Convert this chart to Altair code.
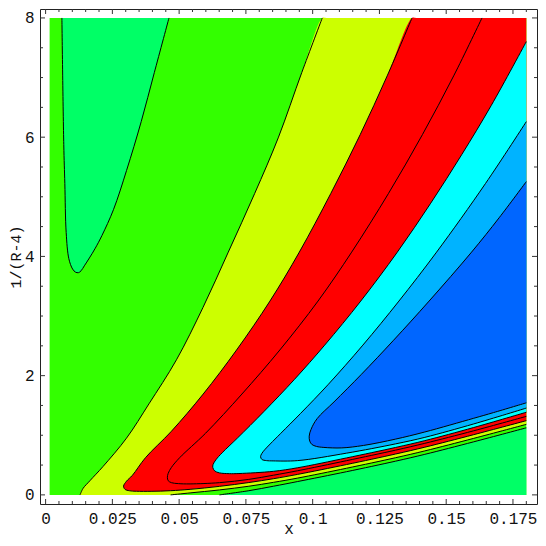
import altair as alt
import pandas as pd

# ---- plot region (data units) ----
X_LEFT, X_RIGHT = 0.0015, 0.18
Y_BOTTOM, Y_TOP = 0.0, 8.0

# ---- contour curves ----
# closed pocket of the lowest level (top left)
pocket_x = [0.0061, 0.0068, 0.0072, 0.0077, 0.0087, 0.0101, 0.0112, 0.0123, 0.0133, 0.0145, 0.0164, 0.0186,
            0.0211, 0.0254, 0.0303, 0.0358, 0.0407, 0.0462]
pocket_y = [8.0, 5.879, 5.222, 4.401, 3.962, 3.788, 3.736, 3.727, 3.760, 3.842, 3.974, 4.138,
            4.351, 4.783, 5.440, 6.261, 7.082, 8.0]

# lowest level, branch near the bottom right
L1_x = [0.0651, 0.0761, 0.0853, 0.0944, 0.1127, 0.131, 0.142, 0.1603, 0.18]
L1_y = [0.0, 0.07, 0.145, 0.224, 0.389, 0.565, 0.68, 0.89, 1.125]

# second level: upper branch (top -> bottom) and lower branch (bottom -> right)
L2_up_x = [0.1036, 0.0959, 0.0871, 0.0783, 0.0684, 0.0589, 0.0490, 0.0387, 0.0303, 0.0215, 0.0166, 0.0140, 0.0129]
L2_up_y = [8.0, 7.082, 5.988, 5.057, 4.072, 3.141, 2.266, 1.527, 0.952, 0.476, 0.238, 0.107, 0.0]
L2_low_x = [0.0468, 0.0541, 0.0651, 0.0761, 0.0853, 0.0944, 0.1127, 0.131, 0.142, 0.1603, 0.18]
L2_low_y = [0.0, 0.033, 0.083, 0.145, 0.21, 0.282, 0.447, 0.623, 0.738, 0.948, 1.183]

# higher levels: each curve from its top/right end, round its tip, to the right edge
L3_x = [0.1372, 0.1279, 0.1178, 0.1068, 0.0950, 0.0840, 0.0715, 0.0590, 0.0471, 0.0374, 0.0325, 0.0303,
        0.0292, 0.0297, 0.0314, 0.0340, 0.0395, 0.0468, 0.0541, 0.0651, 0.0761, 0.0853, 0.0944, 0.1127,
        0.131, 0.142, 0.1603, 0.18]
L3_y = [8.0, 7.028, 6.043, 5.057, 4.072, 3.251, 2.430, 1.691, 1.067, 0.624, 0.328, 0.230,
        0.148, 0.094, 0.069, 0.061, 0.06, 0.070, 0.093, 0.143, 0.207, 0.271, 0.344, 0.509,
        0.685, 0.80, 1.01, 1.245]

L4_x = [0.1634, 0.1528, 0.1411, 0.1284, 0.1146, 0.1020, 0.0877, 0.0735, 0.0599, 0.0502, 0.0471, 0.0459,
        0.0456, 0.0459, 0.0471, 0.0497, 0.0541, 0.0651, 0.0761, 0.0853, 0.0944, 0.1127, 0.131, 0.142,
        0.1603, 0.18]
L4_y = [8.0, 7.028, 6.043, 5.057, 4.072, 3.251, 2.430, 1.691, 1.034, 0.624, 0.460, 0.361,
        0.296, 0.238, 0.205, 0.189, 0.184, 0.205, 0.26, 0.33, 0.405, 0.574, 0.75, 0.865,
        1.075, 1.317]

L5_x = [0.18, 0.1669, 0.1559, 0.1442, 0.1317, 0.1180, 0.1045, 0.0932, 0.0817, 0.0718, 0.0661, 0.0638,
        0.0627, 0.0626, 0.0633, 0.0651, 0.0688, 0.0724, 0.0853, 0.0944, 0.1127, 0.131, 0.142, 0.1603, 0.18]
L5_y = [7.603, 6.535, 5.714, 4.893, 4.072, 3.251, 2.512, 1.938, 1.396, 0.952, 0.706, 0.591,
        0.509, 0.460, 0.402, 0.369, 0.356, 0.358, 0.395, 0.455, 0.62, 0.795, 0.91, 1.13, 1.386]

L6_x = [0.18, 0.1647, 0.1464, 0.1323, 0.1188, 0.1059, 0.0954, 0.0881, 0.0841, 0.0820, 0.0809, 0.0805,
        0.0810, 0.0827, 0.0852, 0.0944, 0.1127, 0.131, 0.142, 0.1603, 0.18]
L6_y = [6.261, 5.222, 4.072, 3.251, 2.512, 1.856, 1.363, 1.034, 0.854, 0.755, 0.690, 0.640,
        0.594, 0.575, 0.570, 0.575, 0.70, 0.855, 0.965, 1.19, 1.456]

L7_x = [0.18, 0.1698, 0.1595, 0.1436, 0.1303, 0.1182, 0.1080, 0.1017, 0.0994, 0.0987, 0.0989, 0.0997,
        0.1014, 0.1042, 0.1109, 0.1190, 0.131, 0.142, 0.1603, 0.1677, 0.18]
L7_y = [5.255, 4.647, 4.072, 3.251, 2.594, 2.020, 1.560, 1.281, 1.100, 0.985, 0.903, 0.846,
        0.813, 0.796, 0.788, 0.829, 0.935, 1.055, 1.285, 1.38, 1.544]

# ---- ticks ----
x_major = [0, 0.025, 0.05, 0.075, 0.1, 0.125, 0.15, 0.175]
x_minor = [0.005, 0.01, 0.015, 0.02, 0.03, 0.035, 0.04, 0.045, 0.055, 0.06, 0.065, 0.07,
           0.08, 0.085, 0.09, 0.095, 0.105, 0.11, 0.115, 0.12, 0.13, 0.135, 0.14, 0.145,
           0.155, 0.16, 0.165, 0.17, 0.18]
y_major = [0, 2, 4, 6, 8]
y_minor = [0.5, 1, 1.5, 2.5, 3, 3.5, 4.5, 5, 5.5, 6.5, 7, 7.5]

# ---- colours ----
C_GREEN, C_MINT, C_YELLOW, C_RED = "#33FF00", "#00FF66", "#CCFF00", "#FF0000"
C_CYAN, C_LBLUE, C_BLUE = "#00FFFF", "#00B3FF", "#0066FF"

W, H = 497, 495
XS = alt.Scale(domain=[-0.0021, 0.1840], nice=False, zero=False)
YS = alt.Scale(domain=[-0.153, 8.15], nice=False, zero=False)
FONT = "Liberation Mono"
CURVE = "catmull-rom"

x_axis = alt.Axis(values=x_major, format=".3~g", ticks=False, tickSize=0, domain=False, grid=False,
                  labelFont=FONT, labelFontSize=16, labelPadding=6, labelColor="#111", labelFlush=False,
                  title="x", titleFont=FONT, titleFontSize=16, titleFontWeight="normal", titleColor="#111",
                  titleY=29, titleBaseline="alphabetic")
y_axis = alt.Axis(values=y_major, format="d", ticks=False, tickSize=0, domain=False, grid=False,
                  labelFont=FONT, labelFontSize=16, labelPadding=6, labelColor="#111", labelFlush=False,
                  title="1/(R-4)", titleFont=FONT, titleFontSize=15, titleFontWeight="normal",
                  titleColor="#111", titleX=-20, titleY=H / 2, titleBaseline="alphabetic", titleAngle=270)


def XE(field):
    return alt.X(field, scale=XS, axis=x_axis)


def YE(field):
    return alt.Y(field, scale=YS, axis=y_axis)


def frame(xs, ys, name=""):
    return pd.DataFrame({"x": list(xs), "y": list(ys), "o": list(range(len(xs))), "seg": name})


bg = alt.Chart(pd.DataFrame({"x0": [X_LEFT], "x1": [X_RIGHT], "y0": [Y_BOTTOM], "y1": [Y_TOP]})).mark_rect(
    color=C_GREEN).encode(x=XE("x0:Q"), x2="x1:Q", y=YE("y0:Q"), y2="y1:Q")


def fill_layer(df, color):
    return alt.Chart(df).mark_line(fill=color, strokeWidth=0, strokeOpacity=0, interpolate=CURVE).encode(
        x=XE("x:Q"), y=YE("y:Q"), order="o:Q")


polys = [
    (frame([X_RIGHT, L1_x[0] + 0.001] + L1_x, [Y_BOTTOM, Y_BOTTOM] + L1_y), C_MINT),
    (frame(pocket_x, pocket_y), C_MINT),
    (frame([X_RIGHT, L2_up_x[0] + 0.0015] + L2_up_x + [0.0140, 0.0460] + L2_low_x,
           [Y_TOP, Y_TOP] + L2_up_y + [Y_BOTTOM, Y_BOTTOM] + L2_low_y), C_YELLOW),
    (frame([X_RIGHT, L3_x[0] + 0.0015] + L3_x, [Y_TOP, Y_TOP] + L3_y), C_RED),
    (frame(L5_x, L5_y), C_CYAN),
    (frame(L6_x, L6_y), C_LBLUE),
    (frame(L7_x, L7_y), C_BLUE),
]
fills = [fill_layer(df, c) for df, c in polys]

lines_df = pd.concat([
    frame(pocket_x, pocket_y, "pocket"),
    frame(L1_x, L1_y, "L1"),
    frame(L2_up_x, L2_up_y, "L2a"),
    frame(L2_low_x, L2_low_y, "L2b"),
    frame(L3_x, L3_y, "L3"),
    frame(L4_x, L4_y, "L4"),
    frame(L5_x, L5_y, "L5"),
    frame(L6_x, L6_y, "L6"),
    frame(L7_x, L7_y, "L7"),
], ignore_index=True)

contours = alt.Chart(lines_df).mark_line(color="#000", strokeWidth=1, interpolate=CURVE).encode(
    x=XE("x:Q"), y=YE("y:Q"), detail="seg:N", order="o:Q")

TICK = "#333"


def xticks(vals, length):
    d = pd.DataFrame({"v": vals})
    b = alt.Chart(d).mark_rule(color=TICK, strokeWidth=1).encode(
        x=XE("v:Q"), y=alt.value(H), y2=alt.value(H - length))
    t = alt.Chart(d).mark_rule(color=TICK, strokeWidth=1).encode(
        x=XE("v:Q"), y=alt.value(0), y2=alt.value(length))
    return [b, t]


def yticks(vals, length):
    d = pd.DataFrame({"v": vals})
    l = alt.Chart(d).mark_rule(color=TICK, strokeWidth=1).encode(
        y=YE("v:Q"), x=alt.value(0), x2=alt.value(length))
    r = alt.Chart(d).mark_rule(color=TICK, strokeWidth=1).encode(
        y=YE("v:Q"), x=alt.value(W), x2=alt.value(W - length))
    return [l, r]


ticks = xticks(x_major, 5) + xticks(x_minor, 3) + yticks(y_major, 5) + yticks(y_minor, 3)

chart = alt.layer(bg, *fills, contours, *ticks).properties(
    width=W, height=H,
    padding={"left": 32, "top": 1, "right": 1, "bottom": 34},
    autosize=alt.AutoSizeParams(type="none"),
).configure_view(stroke="#222", strokeWidth=1)

chart.save("out.html", embed_options={"renderer": "svg", "actions": False})
